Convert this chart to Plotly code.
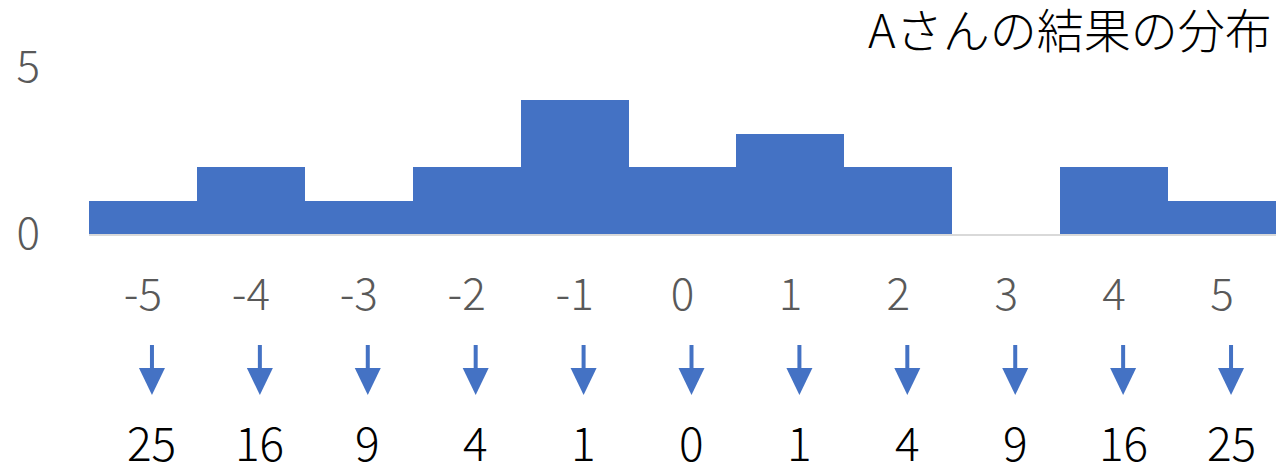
import plotly.graph_objects as go

# Score distribution for person A
scores = [-5, -4, -3, -2, -1, 0, 1, 2, 3, 4, 5]
counts = [1, 2, 1, 2, 4, 2, 3, 2, 0, 2, 1]
squared_labels = ["25", "16", "9", "4", "1", "0", "1", "4", "9", "16", "25"]
title_text = "Aさんの結果の分布"

BLUE = "#4472C4"
GRAY_TEXT = "#595959"
GRID = "#D9D9D9"
FONT = "Noto Sans CJK JP"
X_MIN, X_MAX = -5.5, 5.5

fig = go.Figure()
fig.add_trace(go.Bar(x=scores, y=counts, marker=dict(color=BLUE, line=dict(width=0)),
                     hoverinfo="skip"))

# Down arrows below each score label (paper refs so they are not clipped),
# then the squared value
for s, sq in zip(scores, squared_labels):
    px = (s - X_MIN) / (X_MAX - X_MIN)
    fig.add_shape(type="line", xref="paper", yref="paper",
                  xsizemode="pixel", ysizemode="pixel", xanchor=px, yanchor=0,
                  x0=9, x1=9, y0=-111, y1=-136,
                  line=dict(color=BLUE, width=4))
    fig.add_shape(type="path", xref="paper", yref="paper",
                  xsizemode="pixel", ysizemode="pixel", xanchor=px, yanchor=0,
                  path="M -4,-134 L 22,-134 L 9,-161 Z",
                  fillcolor=BLUE, line=dict(width=0))
    fig.add_annotation(x=s, y=0, xref="x", yref="y", text=sq, showarrow=False,
                       xshift=9, yshift=-207, yanchor="middle",
                       font=dict(family=FONT, size=46, color="black", weight=300))

fig.add_annotation(x=1, y=1, xref="paper", yref="paper",
                   text=title_text, showarrow=False, xanchor="right", yanchor="middle",
                   xshift=-2, yshift=40,
                   font=dict(family=FONT, size=47, color="black", weight=300))

fig.update_layout(
    width=1276, height=468,
    margin=dict(l=89, r=0, t=67, b=234),
    paper_bgcolor="white", plot_bgcolor="white",
    bargap=0, showlegend=False,
    xaxis=dict(range=[X_MIN, X_MAX], tickvals=scores, ticktext=[str(s) for s in scores],
               showgrid=False, zeroline=False, showline=True, linecolor=GRID, linewidth=2,
               ticks="", ticklabelstandoff=21,
               tickfont=dict(family=FONT, size=44, color=GRAY_TEXT, weight=300)),
    yaxis=dict(range=[0, 5], tickvals=[0, 5], showgrid=True, gridcolor=GRID, gridwidth=2,
               zeroline=False, showline=False, ticks="", ticklabelstandoff=48,
               tickfont=dict(family=FONT, size=44, color=GRAY_TEXT, weight=300)),
)

fig.write_html("out.html")
